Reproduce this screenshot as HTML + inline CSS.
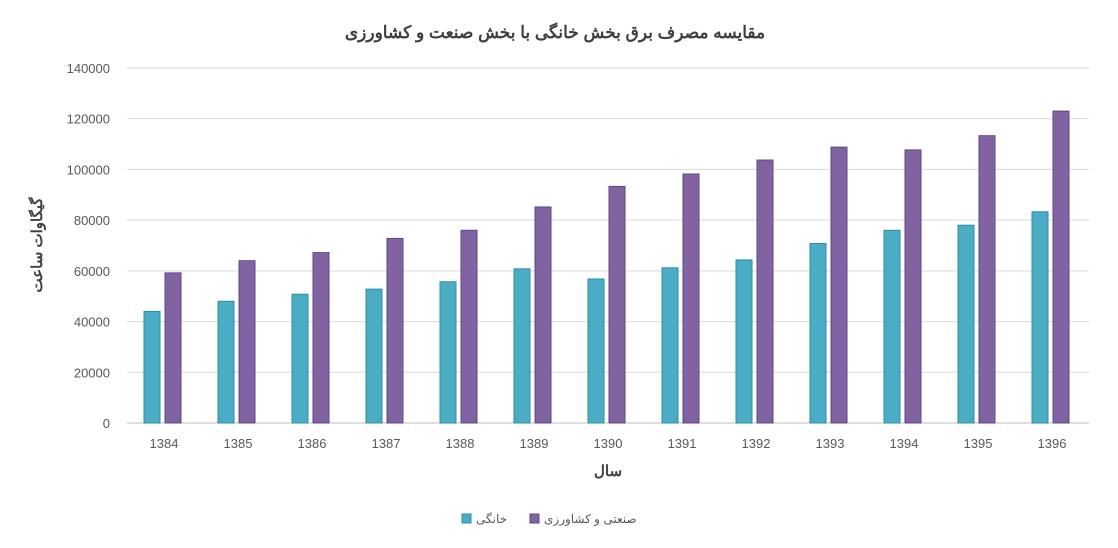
<!DOCTYPE html>
<html><head><meta charset="utf-8">
<style>
body{margin:0;background:#fff;width:1118px;height:543px;overflow:hidden;font-family:"Liberation Sans","Noto Sans CJK SC",sans-serif;}
svg text{font-family:"Liberation Sans","Noto Sans CJK SC",sans-serif;}
</style></head>
<body>
<svg id="chart" width="1118" height="543">
<text x="555" y="38" text-anchor="middle" font-size="17" font-weight="bold" fill="#404040" direction="rtl">مقایسه مصرف برق بخش خانگی با بخش صنعت و کشاورزی</text>
<g id="grid"></g>
<g id="bars"></g>
<g id="xlabels"></g>
<text x="608" y="476" text-anchor="middle" font-size="15" font-weight="bold" fill="#404040">سال</text>
<text transform="translate(42,245) rotate(-90)" text-anchor="middle" font-size="15" font-weight="bold" fill="#404040" direction="rtl">گیگاوات ساعت</text>
<g>
<g>
<rect x="462" y="514" width="9" height="9" fill="#4bacc6" stroke="#2e8ea6"/>
<text x="476" y="523" font-size="12" fill="#595959" direction="rtl" text-anchor="start" style="direction:ltr">خانگی</text>
</g>
<g>
<rect x="530" y="514" width="9" height="9" fill="#8064a2" stroke="#5f4685"/>
<text x="544" y="523" font-size="12" fill="#595959">صنعتی و کشاورزی</text>
</g>
</g>
</svg>
<script>
const categories=["1384","1385","1386","1387","1388","1389","1390","1391","1392","1393","1394","1395","1396"];
const household=[44000,48000,50800,52800,55700,60800,56800,61200,64300,70800,76000,78000,83300];
const industry=[59200,64000,67200,72800,76000,85200,93300,98200,103700,108800,107700,113300,123000];
const yTicks=[0,20000,40000,60000,80000,100000,120000,140000];
const NS="http://www.w3.org/2000/svg";
const x0=127,x1=1089,yBase=423,yTop=68,yMax=140000;
const band=(x1-x0)/categories.length;
const y=v=>yBase-(v/yMax)*(yBase-yTop);
const bx=i=>x0+i*band;
function mk(tag,attrs,parent){const e=document.createElementNS(NS,tag);for(const k in attrs)e.setAttribute(k,attrs[k]);parent.appendChild(e);return e;}
const grid=document.getElementById('grid');
yTicks.forEach(t=>{
  const l=mk('line',{x1:x0,x2:x1,y1:y(t),y2:y(t),stroke:t===0?'#bfbfbf':'#d9d9d9','stroke-width':1},grid);
  
  
  const tx=mk('text',{x:110,y:y(t)+5,'text-anchor':'end','font-size':13,fill:'#595959'},grid);
  tx.textContent=t;
  
  
});
const bars=document.getElementById('bars');
const xl=document.getElementById('xlabels');
categories.forEach((c,i)=>{
  const c0=bx(i)+band/2;
  const r1=mk('rect',{x:c0-20,y:y(household[i]),width:16,height:yBase-y(household[i]),fill:'#4bacc6',stroke:'#2e8ea6','stroke-width':1},bars);
  
  
  const r2=mk('rect',{x:c0+1,y:y(industry[i]),width:16,height:yBase-y(industry[i]),fill:'#8064a2',stroke:'#5f4685','stroke-width':1},bars);
  
  
  const t=mk('text',{x:c0,y:448,'text-anchor':'middle','font-size':13,fill:'#595959'},xl);
  t.textContent=c;
  
  
});
</script>
</body></html>
